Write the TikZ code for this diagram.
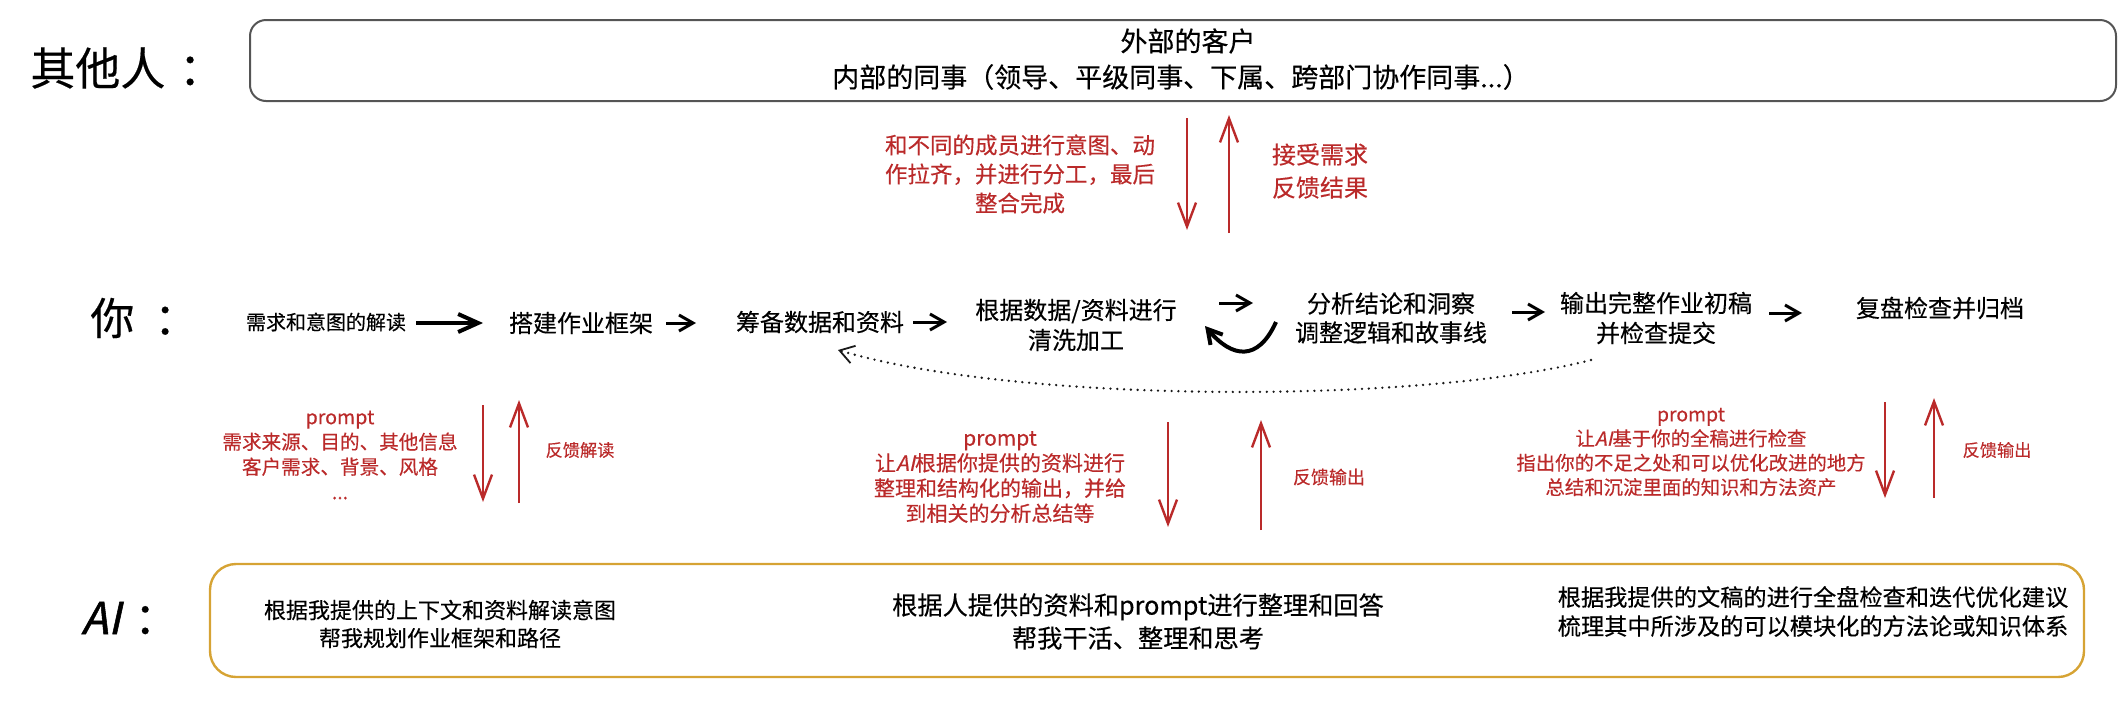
\documentclass[tikz,border=0pt]{standalone}
\usepackage{fontspec}
\setmainfont{Noto Sans CJK SC}[FakeBold=0.35]
\newfontfamily\slantfont[FakeSlant=0.22,FakeBold=0.6]{Noto Sans CJK SC}
\newfontfamily\slantbig[FakeSlant=0.22,FakeBold=1.2]{Noto Sans CJK SC}
\usetikzlibrary{arrows.meta}
\definecolor{redc}{RGB}{186,42,42}
\definecolor{goldc}{RGB}{214,163,52}
\definecolor{boxgray}{RGB}{85,85,85}
\newcommand{\fsz}[2]{\fontsize{#1}{#2}\selectfont}
\begin{document}
\begin{tikzpicture}[x=0.5pt,y=-0.5pt,
  txt/.style={inner sep=0pt, align=center, anchor=center},
  redtxt/.style={txt, text=redc},
  redarrow/.style={draw=redc, line width=1.2pt, -{Straight Barb[length=12pt,width=9pt]}},
  blkarrow/.style={draw=black, line width=1.5pt, -{Straight Barb[length=7pt,width=8pt]}},
  bigarrow/.style={draw=black, line width=2pt, -{Straight Barb[length=10pt,width=9pt]}},
  dotarrow/.style={draw=black!90, line width=1.3pt, line cap=round, dash pattern=on 0pt off 3.4pt, -{Straight Barb[length=7pt,width=9pt,line width=0.9pt]}},
]
\useasboundingbox (0,0) rectangle (2119,708);

% ---------- row 1 ----------
\node[txt, anchor=west, font=\fsz{22.5pt}{26pt}] (lother) at (30,68) {其他人\hspace{0.3em}：};
\node[draw=boxgray, line width=1pt, rounded corners=8pt, minimum width=933pt, minimum height=40.5pt, inner sep=0pt] (others) at (1183,60.5) {};
\node[txt, font=\fsz{13.5pt}{16pt}] (ext) at (1188,41) {外部的客户};
\node[txt, font=\fsz{13.5pt}{16pt}] (int) at (1181,77) {内部的同事（领导、平级同事、下属、跨部门协作同事...）};

\node[redtxt, font=\fsz{11.25pt}{14.5pt}] (rt1) at (1020,174) {和不同的成员进行意图、动\\作拉齐，并进行分工，最后\\整合完成};
\node[redtxt, font=\fsz{12pt}{16.5pt}] (rt2) at (1320,171) {接受需求\\反馈结果};
\coordinate (d1s) at (1187,118); \coordinate (d1e) at (1187,230);
\coordinate (u1s) at (1229,233); \coordinate (u1e) at (1229,115);
\draw[redarrow] (d1s) -- (d1e);
\draw[redarrow] (u1s) -- (u1e);

% ---------- row 2 ----------
\node[txt, anchor=west, font=\fsz{22pt}{26pt}] (lyou) at (90,318) {你\hspace{0.45em}：};
\node[txt, font=\fsz{10pt}{12pt}] (n1) at (326,322) {需求和意图的解读};
\node[txt, font=\fsz{12pt}{15pt}] (n2) at (581,323) {搭建作业框架};
\node[txt, font=\fsz{12pt}{15pt}] (n3) at (820,322) {筹备数据和资料};
\node[txt, font=\fsz{12pt}{15pt}] (n4) at (1076,325) {根据数据/资料进行\\清洗加工};
\node[txt, font=\fsz{12pt}{14.5pt}] (n5) at (1391,318) {分析结论和洞察\\调整逻辑和故事线};
\node[txt, font=\fsz{12pt}{15pt}] (n6) at (1656,318) {输出完整作业初稿\\并检查提交};
\node[txt, font=\fsz{12pt}{15pt}] (n7) at (1940,308) {复盘检查并归档};

\coordinate (a1s) at (416,323); \coordinate (a1e) at (483,323);
\coordinate (a2s) at (666,323); \coordinate (a2e) at (696,323);
\coordinate (a3s) at (913,322); \coordinate (a3e) at (947,322);
\coordinate (a4s) at (1219,303); \coordinate (a4e) at (1253,303);
\coordinate (a5s) at (1512,312); \coordinate (a5e) at (1545,312);
\coordinate (a6s) at (1769,313); \coordinate (a6e) at (1802,313);
\draw[bigarrow] (a1s) -- (a1e);
\draw[blkarrow] (a2s) -- (a2e);
\draw[blkarrow] (a3s) -- (a3e);
\draw[blkarrow] (a4s) -- (a4e);
\draw[blkarrow] (a5s) -- (a5e);
\draw[blkarrow] (a6s) -- (a6e);
\coordinate (sws) at (1276,322); \coordinate (swe) at (1205,326);
\draw[blkarrow, line width=2pt] (sws) .. controls (1258,362) and (1232,358) .. (swe);
\coordinate (dts) at (1591,360); \coordinate (dte) at (838,350);
\draw[dotarrow] (dts) .. controls (1420,404) and (1020,404) .. (dte);

% ---------- row 3 ----------
\node[redtxt, font=\fsz{9.8pt}{12.5pt}] (p1) at (340,455) {prompt\\需求来源、目的、其他信息\\客户需求、背景、风格\\...};
\coordinate (d2s) at (483,405); \coordinate (d2e) at (483,502);
\coordinate (u2s) at (519,503); \coordinate (u2e) at (519,400);
\draw[redarrow] (d2s) -- (d2e);
\draw[redarrow] (u2s) -- (u2e);
\node[redtxt, font=\fsz{8.6pt}{11pt}] (fb1) at (580,450) {反馈解读};

\node[redtxt, font=\fsz{10.5pt}{12.6pt}] (p2) at (1000,477) {prompt\\让{\slantfont AI}根据你提供的资料进行\\整理和结构化的输出，并给\\到相关的分析总结等};
\coordinate (d3s) at (1168,422); \coordinate (d3e) at (1168,527);
\coordinate (u3s) at (1261,530); \coordinate (u3e) at (1261,420);
\draw[redarrow] (d3s) -- (d3e);
\draw[redarrow] (u3s) -- (u3e);
\node[redtxt, font=\fsz{9pt}{11pt}] (fb2) at (1329,477) {反馈输出};

\node[redtxt, font=\fsz{9.7pt}{12.2pt}] (p3) at (1691,452) {prompt\\让{\slantfont AI}基于你的全稿进行检查\\指出你的不足之处和可以优化改进的地方\\总结和沉淀里面的知识和方法资产};
\coordinate (d4s) at (1885,402); \coordinate (d4e) at (1885,498);
\coordinate (u4s) at (1934,498); \coordinate (u4e) at (1934,398);
\draw[redarrow] (d4s) -- (d4e);
\draw[redarrow] (u4s) -- (u4e);
\node[redtxt, font=\fsz{8.6pt}{11pt}] (fb3) at (1997,450) {反馈输出};

% ---------- row 4 ----------
\node[txt, anchor=west, font=\fsz{22pt}{26pt}] (lai) at (81,618) {{\slantbig AI}\hspace{0.3em}：};
\node[draw=goldc, line width=1.2pt, rounded corners=13pt, minimum width=937pt, minimum height=56.5pt, inner sep=0pt] (aibox) at (1147,620.5) {};
\node[txt, font=\fsz{11pt}{14pt}] (ai1) at (440,624) {根据我提供的上下文和资料解读意图\\帮我规划作业框架和路径};
\node[txt, font=\fsz{12.6pt}{16.5pt}] (ai2) at (1138,621.5) {根据人提供的资料和prompt进行整理和回答\\帮我干活、整理和思考};
\node[txt, align=left, font=\fsz{11.6pt}{14.5pt}] (ai3) at (1813,611.5) {根据我提供的文稿的进行全盘检查和迭代优化建议\\梳理其中所涉及的可以模块化的方法论或知识体系};
\end{tikzpicture}
\end{document}
